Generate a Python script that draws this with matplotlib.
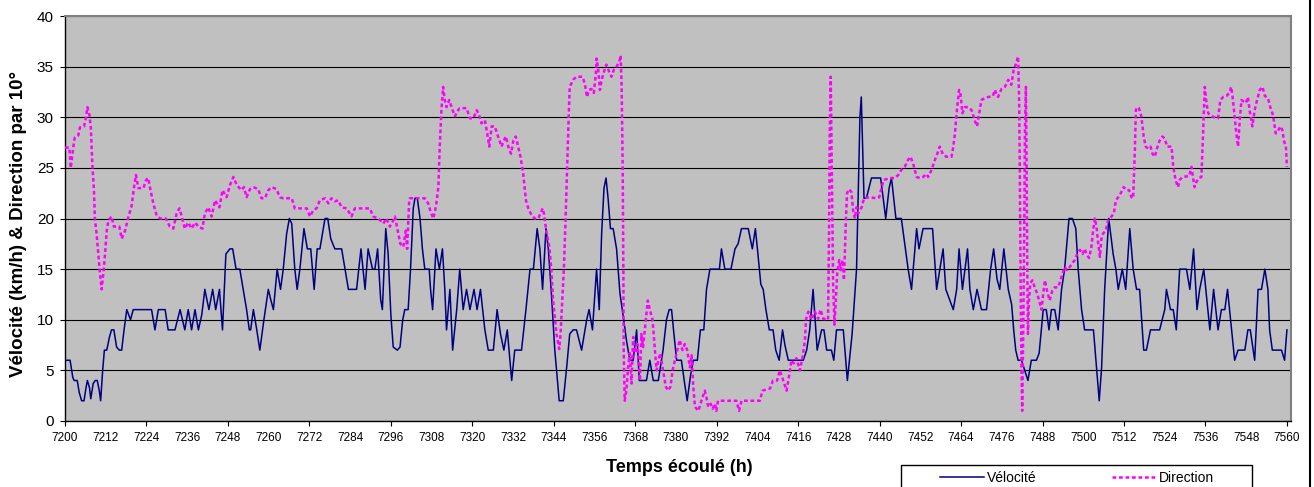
import matplotlib
matplotlib.use("Agg")
import matplotlib.pyplot as plt
from matplotlib.patches import Rectangle
from matplotlib.lines import Line2D
import numpy as np

plt.rcParams['font.family'] = ['Liberation Sans', 'DejaVu Sans']

T0 = 7200  # first hour on the axis

# Velocity (km/h): hours after T0, value
vel_t = [0.0, 1.5, 2.3, 2.7, 3.6, 4.2, 4.9, 5.6, 6.2, 6.6, 7.2, 7.6, 8.3, 8.9, 9.5, 10.1, 10.5, 11.1, 11.6, 12.3,
         13.1, 13.7, 14.4, 15.2, 16.0, 16.7, 17.4, 18.2, 19.3, 20.1, 25.5, 26.5, 27.5, 29.5, 30.4, 32.4, 33.9, 35.3,
         36.3, 37.3, 38.3, 39.3, 40.3, 41.2, 42.4, 43.5, 44.4, 45.5, 46.4, 47.4, 48.6, 49.4, 50.4, 51.5, 52.5, 53.5,
         54.3, 54.7, 55.5, 56.5, 57.4, 58.6, 59.9, 60.6, 61.4, 62.5, 63.5, 64.3, 65.3, 66.1, 66.8, 67.7, 68.4, 69.2,
         70.4, 71.4, 72.4, 73.4, 74.3, 75.1, 76.6, 77.4, 78.3, 79.5, 81.5, 82.5, 83.5, 85.9, 87.2, 88.4, 89.3, 90.6,
         91.3, 92.1, 93.0, 93.5, 94.5, 95.2, 96.0, 96.7, 97.9, 98.7, 99.5, 100.1, 101.1, 101.8, 102.6, 103.1, 103.8,
         104.6, 105.3, 106.0, 107.3, 107.7, 108.3, 109.3, 110.3, 111.2, 111.9, 112.4, 113.4, 114.2, 115.4, 116.3,
         117.3, 118.3, 119.3, 120.5, 121.4, 122.4, 123.7, 124.7, 126.2, 127.3, 128.3, 129.3, 130.3, 131.6, 132.5,
         134.5, 135.8, 137.0, 138.0, 139.1, 139.9, 140.7, 141.7, 142.4, 143.3, 144.3, 145.6, 146.8, 147.8, 148.7,
         149.7, 150.7, 152.2, 153.7, 154.4, 155.4, 156.6, 157.4, 158.1, 158.8, 159.4, 160.0, 160.7, 161.5, 162.5,
         163.5, 164.6, 165.4, 166.4, 167.4, 168.4, 169.2, 171.3, 172.3, 173.3, 174.8, 176.2, 177.2, 178.0, 178.7,
         179.4, 180.2, 181.6, 182.6, 183.3, 184.3, 185.1, 186.3, 187.2, 188.2, 189.0, 190.0, 192.8, 193.4, 194.4,
         196.2, 197.4, 198.3, 199.3, 201.3, 202.5, 203.4, 204.0, 205.0, 205.7, 206.5, 207.5, 208.6, 209.4, 210.4,
         211.4, 212.1, 213.1, 217.5, 218.5, 219.4, 220.4, 221.6, 222.9, 223.6, 224.4, 225.8, 226.5, 227.3, 229.3,
         230.5, 231.9, 233.2, 234.2, 234.6, 235.4, 236.1, 237.6, 240.3, 241.8, 242.8, 243.5, 244.8, 246.4, 248.4,
         249.4, 250.9, 251.6, 252.8, 255.6, 256.8, 258.7, 259.5, 261.7, 262.7, 263.4, 264.4, 265.9, 266.6, 267.6,
         268.7, 270.0, 271.5, 272.7, 273.6, 274.6, 275.4, 276.6, 277.9, 278.9, 279.5, 280.1, 280.8, 281.8, 283.7,
         284.7, 286.2, 287.0, 288.2, 289.1, 289.9, 290.6, 291.6, 292.6, 293.6, 294.5, 295.8, 296.8, 297.8, 298.5,
         299.5, 300.4, 303.0, 303.9, 304.7, 305.4, 306.3, 307.5, 308.8, 309.6, 310.3, 311.5, 312.5, 313.7, 314.7,
         315.7, 316.6, 317.8, 318.6, 319.8, 322.5, 324.0, 324.5, 325.7, 326.5, 327.4, 328.4, 330.4, 331.4, 332.5,
         333.5, 334.3, 335.5, 336.1, 337.3, 338.4, 339.7, 340.7, 341.7, 342.5, 343.1, 344.6, 345.6, 347.6, 348.5,
         349.2, 350.5, 351.5, 352.5, 353.5, 354.4, 354.9, 355.7, 358.4, 359.3, 360.0]
vel_v = [6, 6, 4.3, 4, 4, 2.8, 2, 2, 3.3, 4, 3.3, 2.2, 3.7, 4, 4, 3, 2, 5, 7, 7,
         8.3, 9, 9, 7.3, 7, 7, 9, 11, 10, 11, 11, 9, 11, 11, 9, 9, 11, 9,
         11, 9, 11, 9, 10.5, 13, 11, 13, 11, 13, 9, 16.5, 17, 17, 15, 15, 13, 11,
         9, 9, 11, 9, 7, 10, 13, 12, 11, 15, 13, 15, 18.5, 20, 19.5, 15, 13, 15,
         19, 17, 17, 13, 17, 17, 20, 20, 18, 17, 17, 15, 13, 13, 17, 13, 17, 15,
         15, 17, 12, 11, 19, 16.5, 10.5, 7.3, 7, 7.3, 10, 11, 11, 15, 21, 22, 22,
         20, 17, 15, 15, 13, 11, 17, 15, 17, 13, 9, 13, 7, 11, 15,
         11, 13, 11, 13, 11, 13, 9, 7, 7, 11, 8.6, 7, 9, 4, 7,
         7, 11, 15, 15, 19, 17, 13, 19, 17, 12.6, 7, 2, 2, 5.3, 8.6,
         9, 9, 7, 10, 11, 9, 15, 11, 18.5, 23, 24, 22, 19, 19, 17,
         12.6, 10, 8, 6, 6, 9, 4, 4, 6, 4, 4, 7, 10, 11, 11,
         8.6, 6, 6, 3.6, 2, 4.5, 6, 6, 9, 9, 13, 15, 15, 17, 15,
         15, 17, 17.5, 19, 19, 17, 19, 17, 13.5, 13, 11, 9, 9, 7, 6,
         9, 7.5, 6, 6, 7, 9, 13, 7, 9, 9, 7, 7, 6, 9, 9,
         4, 8.6, 15, 30, 32, 22, 22, 24, 24, 20, 23, 24, 20, 20, 15,
         13, 19, 17, 19, 19, 13, 17, 13, 11, 13, 17, 13, 17, 13, 11,
         13, 11, 11, 15, 17, 14, 13, 17, 13, 11.5, 9, 7, 6, 6, 4,
         6, 6, 6.7, 11, 11, 9, 11, 11, 9, 13, 15, 20, 20, 19, 15,
         11, 9, 9, 5.3, 2, 5.3, 13, 20, 16.5, 15, 13, 15, 13, 19, 15,
         13, 13, 7, 7, 9, 9, 11, 13, 11, 11, 9, 15, 15, 13, 17,
         11, 13, 15, 13, 9, 13, 9, 11, 11, 13, 11, 6, 7, 7, 9,
         9, 6, 13, 13, 15, 13, 9, 7, 7, 6, 9]

# Direction (tens of degrees): hours after T0, value
dir_t = [0.0, 1.3, 1.7, 2.7, 2.9, 3.9, 4.4, 5.6, 6.2, 6.6, 7.2, 7.6, 8.1, 8.5, 8.8, 9.3, 9.8, 10.3, 10.8, 11.3,
         11.8, 12.3, 12.8, 13.7, 14.4, 16.0, 16.7, 17.7, 18.7, 19.6, 20.3, 20.9, 21.6, 23.1, 23.9, 24.5, 25.2,
         26.0, 27.0, 28.0, 29.7, 30.9, 31.9, 32.9, 33.7, 34.4, 35.3, 36.3, 37.3, 38.3, 39.3, 40.5, 41.2, 42.2,
         43.2, 44.2, 45.5, 46.4, 47.6, 48.6, 49.6, 50.6, 52.0, 52.7, 53.5, 54.5, 55.5, 56.9, 57.9, 58.9, 59.9,
         60.9, 62.3, 63.3, 64.3, 66.8, 67.7, 71.2, 72.2, 73.1, 74.1, 75.1, 76.6, 77.6, 78.5, 79.5, 80.5, 81.5,
         83.0, 84.4, 85.4, 89.8, 90.8, 92.3, 93.8, 94.7, 95.7, 96.7, 97.2, 98.2, 98.8, 99.7, 100.4, 100.8, 101.4,
         101.6, 106.0, 107.0, 107.7, 108.5, 109.3, 110.0, 110.4, 110.9, 111.4, 111.9, 112.4, 113.2, 114.2, 114.9,
         115.6, 116.3, 118.3, 119.3, 120.3, 121.3, 122.0, 122.7, 123.7, 124.4, 125.0, 125.7, 126.6, 127.6, 128.6,
         129.3, 129.9, 130.6, 131.4, 132.1, 132.8, 133.5, 134.2, 135.0, 135.8, 136.5, 137.5, 138.4, 139.4, 140.1,
         140.7, 141.1, 141.9, 142.7, 143.3, 143.8, 144.3, 144.8, 145.6, 146.0, 146.5, 147.0, 147.5, 148.0, 148.4,
         148.7, 149.7, 150.7, 152.5, 153.2, 153.8, 154.4, 155.1, 155.8, 156.4, 156.6, 157.1, 157.6, 158.1, 158.8,
         159.5, 160.3, 161.0, 161.7, 162.5, 163.3, 163.7, 164.0, 164.3, 164.5, 164.6, 164.9, 165.4, 165.9, 166.4,
         166.9, 167.4, 167.9, 168.6, 169.4, 169.8, 170.3, 171.1, 171.7, 172.3, 173.1, 173.8, 174.3, 174.8, 175.4,
         176.2, 177.0, 177.7, 178.4, 179.0, 179.7, 180.4, 181.1, 181.9, 182.6, 183.3, 184.1, 184.6, 185.1, 185.6,
         186.6, 187.5, 188.5, 189.0, 189.5, 190.2, 190.8, 191.5, 191.9, 192.4, 197.8, 198.6, 199.3, 204.7, 205.5,
         207.7, 208.6, 209.8, 210.6, 211.6, 212.6, 213.6, 214.0, 214.7, 215.5, 216.5, 217.3, 218.0, 218.3, 219.0,
         219.9, 220.9, 221.9, 222.6, 223.4, 224.8, 225.1, 225.3, 225.6, 225.8, 226.1, 226.3, 226.7, 227.1, 227.5,
         228.1, 228.5, 229.1, 229.5, 230.1, 230.4, 231.0, 231.7, 232.2, 232.7, 233.2, 233.7, 234.7, 235.4, 236.9,
         239.1, 239.9, 240.6, 241.2, 243.0, 244.5, 245.5, 246.4, 247.4, 248.4, 249.1, 249.9, 250.9, 251.8, 252.8,
         253.8, 254.3, 255.3, 256.3, 257.0, 257.7, 258.7, 259.7, 261.2, 261.7, 262.2, 262.6, 263.4, 263.8, 264.4,
         265.1, 266.1, 267.1, 268.0, 268.7, 269.5, 270.0, 271.0, 272.0, 273.4, 273.9, 274.9, 275.9, 276.9, 277.9,
         278.8, 279.5, 280.1, 280.8, 281.1, 281.3, 281.5, 281.8, 282.0, 282.3, 282.6, 282.8, 283.1, 283.3, 283.5,
         283.7, 284.0, 284.4, 285.0, 285.7, 286.4, 287.0, 287.7, 288.2, 288.7, 289.3, 290.1, 290.9, 291.6, 292.6,
         293.3, 293.9, 294.5, 295.2, 296.0, 296.8, 297.5, 298.2, 299.0, 299.8, 300.4, 301.1, 301.7, 302.4, 302.9,
         303.4, 303.9, 304.4, 304.9, 305.3, 305.8, 306.6, 307.3, 308.3, 309.0, 309.6, 310.3, 311.2, 311.9, 312.7,
         313.5, 314.2, 314.7, 315.2, 315.5, 315.9, 316.4, 317.1, 317.8, 318.4, 319.1, 319.8, 320.4, 321.1, 321.7,
         322.5, 323.3, 324.0, 324.7, 326.0, 326.5, 327.2, 327.9, 328.4, 329.2, 331.2, 331.9, 332.3, 332.8, 333.3,
         334.1, 334.8, 335.3, 335.8, 336.3, 336.8, 337.7, 339.7, 340.4, 341.2, 342.2, 343.0, 343.6, 344.1, 344.6,
         345.1, 345.6, 346.1, 346.6, 347.9, 348.5, 349.0, 349.8, 350.5, 351.2, 352.0, 352.8, 353.5, 354.4, 355.1,
         355.9, 356.7, 357.4, 358.1, 358.7, 359.1, 359.7, 360.0]
dir_v = [27, 27, 25, 27.7, 28, 28.2, 29, 29.1, 30, 31, 30.2, 29, 25, 23, 20, 18.5, 16.5, 14.6, 13, 14.6,
         16.5, 18.8, 19.8, 20.2, 19.2, 19.2, 18, 18.8, 20.2, 21.2, 23, 24.3, 23, 23, 23.8, 24, 22.8,
         21.5, 20.3, 20, 20, 19.2, 19, 20.5, 21, 20.2, 19, 19.6, 19, 19.6, 19.2, 19, 20.5, 21.1,
         20.2, 21.8, 21.1, 22.8, 22.1, 23.3, 24.1, 23.3, 22.8, 23.1, 22.1, 22.9, 23.1, 22.9, 22, 22, 22.8,
         23.1, 22.9, 22.1, 22, 22, 21, 21, 20.2, 20.8, 21, 21.8, 22, 21.5, 22, 21.7, 21.8, 21.1,
         21, 20.2, 21, 21, 20.2, 20, 19.5, 20, 19.2, 19.8, 20.2, 18.5, 17.5, 17.2, 18.8, 17, 21.8,
         22, 22, 21.5, 20.7, 20, 21.2, 23.1, 27.1, 30.7, 33, 31.7, 31, 31.7, 30.7, 30.1,
         30.6, 30.9, 30.9, 29.9, 29.9, 30.7, 30.2, 29.4, 29.7, 28.4, 27.1, 29.1, 29.1, 28.1, 27.1,
         27.7, 28.1, 27.1, 26.4, 27.7, 28.1, 27.1, 26.1, 24.4, 21.8, 21, 20.3, 20, 20, 20.5,
         21, 20.5, 18.5, 17.2, 14.9, 11.9, 10.3, 8.6, 7.1, 8.6, 11.9, 15.2, 20.2, 25.8, 30.1,
         33, 33.7, 34, 34, 33.2, 32, 32.7, 32.8, 32.4, 34.3, 35.8, 34.7, 32.7, 33.7, 34.5,
         35.2, 34.5, 34, 34.7, 35, 35.5, 36.1, 33, 25.1, 15.2, 7, 2, 3, 5.3, 6.7,
         3.7, 8.3, 6.7, 7.6, 4, 8.6, 7.3, 9.9, 11.9, 11, 10, 7, 5, 6, 6.7,
         5, 3.4, 3, 3.4, 5, 6, 7, 8, 7, 7.6, 7, 5.3, 6.5, 3.4, 1.4,
         1, 2, 3, 2.3, 1.4, 1.7, 1.2, 1.7, 1, 2, 2, 1, 2, 2, 3,
         3.2, 4, 4, 5, 4, 3, 5, 6, 5.7, 6.2, 5, 6.3, 8, 10, 10.8,
         10, 10.8, 10.1, 11, 10.1, 10, 18.5, 28.4, 34, 28.4, 20.2, 13.6, 9.5, 11.9, 14.6,
         15.9, 14.9, 15.9, 13.9, 20.2, 22.5, 22.9, 22.6, 20.8, 20, 21.1, 20.5, 21.1, 22, 22.1,
         22, 22.1, 23.1, 23.8, 24, 24, 24.3, 24.8, 25.1, 25.8, 26.1, 25.4, 24.1, 24, 24.1,
         24.4, 24.1, 24.8, 25.8, 26.4, 27.1, 26.3, 26.1, 26.1, 27.1, 28.4, 30.1, 32.7, 32.4, 30.4,
         31, 31, 30.7, 29.7, 29.1, 30.7, 31.7, 31.9, 32, 32.1, 32.7, 32, 32.8, 33, 33.7,
         33.2, 34.7, 35.2, 36, 31.7, 25.1, 15.2, 5.3, 1, 8.6, 18.5, 28.4, 33, 25.1, 15.2,
         8.6, 11.9, 13.6, 13.9, 13.2, 12.6, 11.9, 11, 12.6, 13.9, 12.9, 11.9, 12.9, 13.2, 13.2,
         13.9, 14.6, 15.2, 14.9, 15.2, 15.6, 15.9, 16.5, 16.9, 16.5, 17, 16.4, 16.1, 17.2, 18.8,
         20, 19.2, 17.5, 16.2, 17.9, 18.5, 18.8, 19.8, 20.2, 20.5, 21.8, 22.1, 22.6, 23.1, 22.8,
         22.8, 22.1, 22, 26.8, 30.7, 31, 30.9, 30.1, 28.1, 27.1, 26.9, 27.1, 26.4, 26.1, 26.9,
         27.7, 28.1, 27.9, 27.1, 27.1, 25.1, 23.8, 23.1, 23.8, 24.1, 24.2, 25.1, 24.1, 23.1, 23.6,
         24, 24.1, 28.4, 33, 31.4, 30.4, 30.1, 29.9, 31.7, 32, 32.1, 32.4, 33, 31.7, 30.1,
         28.4, 27.1, 29.7, 31.7, 31.4, 32, 30.7, 29.1, 30.7, 31.7, 32.7, 33, 32.1, 31.9, 31,
         30.2, 28.4, 28.7, 29.1, 28.7, 27.7, 27.1, 25.1]

x_major = np.arange(7200, 7561, 24)   # tick marks
x_minor = np.arange(7212, 7561, 24)   # labels only
y_ticks = np.arange(0, 41, 5)

W, H = 1314, 487
fig = plt.figure(figsize=(W / 100, H / 100), dpi=100)
ax = fig.add_axes([65 / W, 1 - 421 / H, (1291 - 65) / W, (421 - 16) / H])
ax.set_facecolor('#C0C0C0')

vx = T0 + np.array(vel_t)
dx = T0 + np.array(dir_t)
ax.plot(vx, vel_v, color='#000080', lw=1.1, zorder=3, solid_joinstyle='round')
ax.plot(dx, dir_v, color='#FF00FF', lw=1.8, dashes=(1.5, 1.1), dash_capstyle='butt', zorder=4)

ax.set_xlim(7200, 7561.2)
ax.set_ylim(0, 40)

ax.set_xticks(x_major)
ax.set_xticklabels([str(v) for v in x_major])
ax.set_xticks(x_minor, minor=True)
ax.set_xticklabels([str(v) for v in x_minor], minor=True)
ax.tick_params(axis='x', which='major', direction='out', length=3.5, width=0.8,
               pad=4.5, labelsize=8.5, colors='black')
ax.tick_params(axis='x', which='minor', length=0, pad=8.0, labelsize=8.5, colors='black')

ax.set_yticks(y_ticks)
ax.tick_params(axis='y', direction='out', length=3.5, width=0.8, pad=4.5,
               labelsize=11, colors='black')

ax.yaxis.grid(True, color='black', lw=0.8)
ax.set_axisbelow(True)

for side in ('left', 'bottom'):
    ax.spines[side].set_color('black')
    ax.spines[side].set_linewidth(1.0)
for side in ('top', 'right'):
    ax.spines[side].set_color('#808080')
    ax.spines[side].set_linewidth(1.5)

fig.text(19 / W, 1 - 224 / H, 'Vélocité (km/h) & Direction par 10°', rotation=90,
         ha='center', va='center', fontsize=13.5, fontweight='bold')
fig.text(679 / W, 1 - 468 / H, 'Temps écoulé (h)', ha='center', va='center',
         fontsize=13, fontweight='bold')

# legend box and entries
fig.patches.append(Rectangle((901 / W, -0.05), 351 / W, 0.05 + 1 - 465 / H,
                             transform=fig.transFigure, fill=False,
                             edgecolor='black', lw=1.0))
handles = [Line2D([], [], color='#000080', lw=1.1),
           Line2D([], [], color='#FF00FF', lw=1.8, dashes=(1.5, 1.1), dash_capstyle='butt')]
fig.legend(handles, ['Vélocité', 'Direction'], loc='center',
           bbox_to_anchor=(1077 / W, 1 - 478 / H), ncol=2, frameon=False,
           fontsize=10, handlelength=3.2, handletextpad=0.2, columnspacing=5.4,
           borderpad=0, borderaxespad=0)

# outer chart border on the right
fig.add_artist(Line2D([1309.5 / W, 1309.5 / W], [0, 1], transform=fig.transFigure,
                      color='black', lw=1.5))

fig.savefig('out.png', dpi=100)
